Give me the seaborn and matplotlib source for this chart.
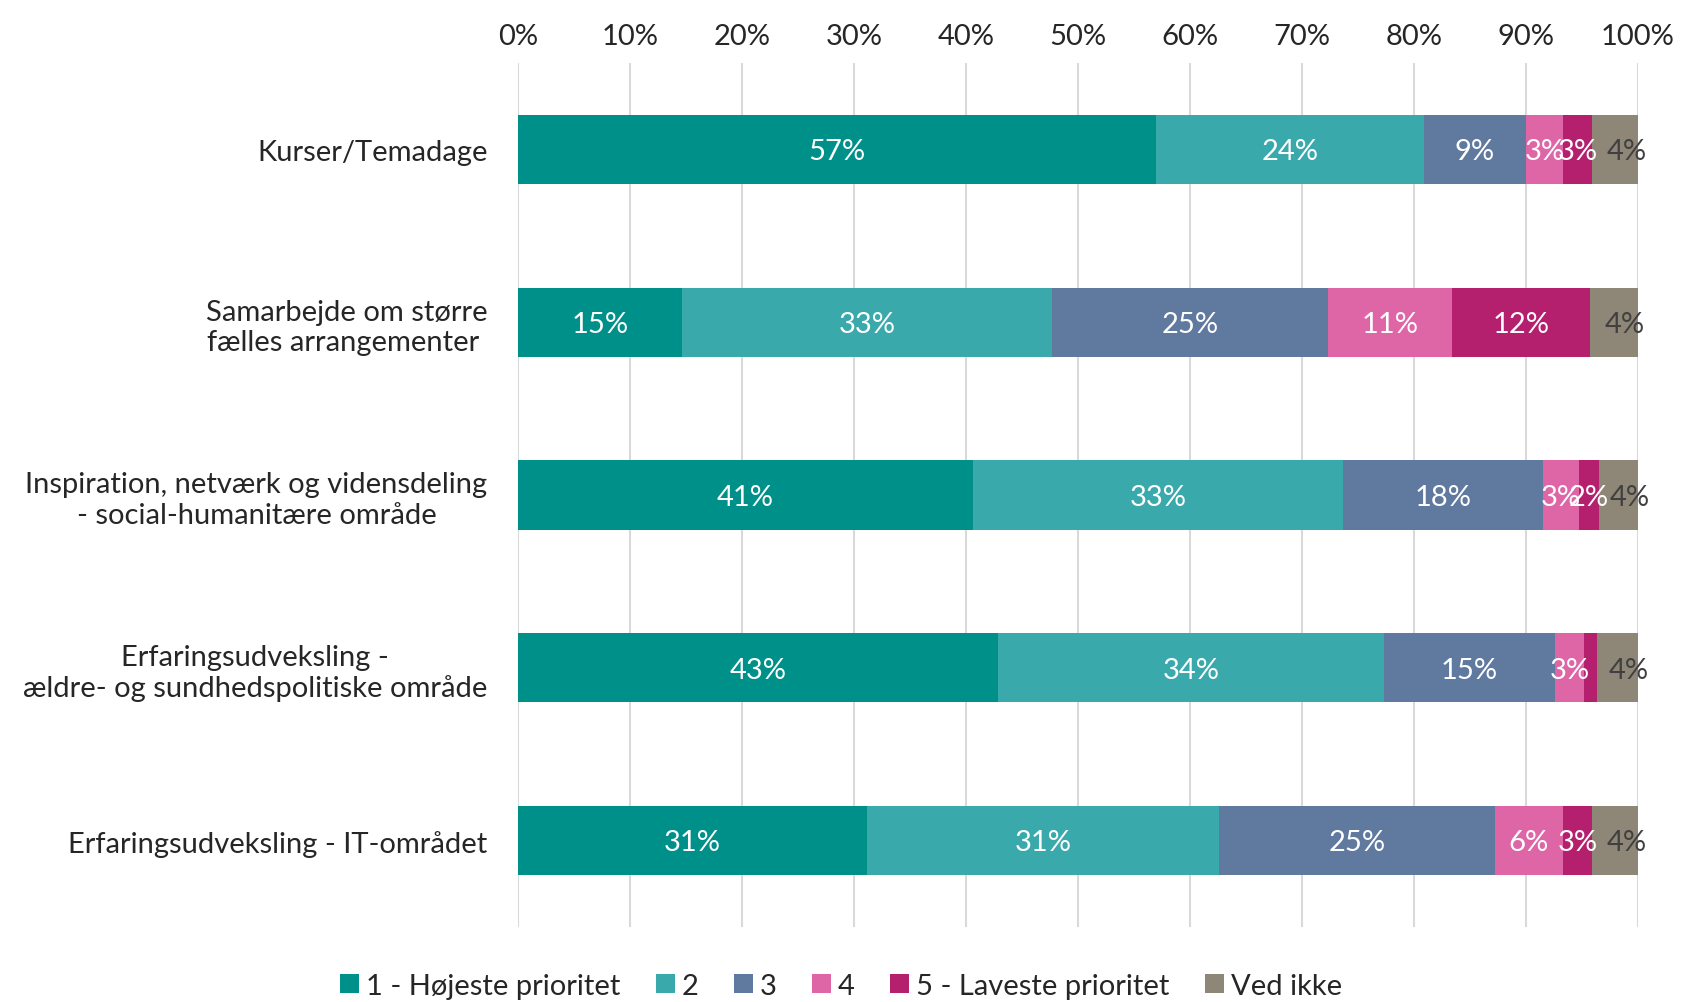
import numpy as np
import pandas as pd
import matplotlib
matplotlib.use("Agg")
import matplotlib.pyplot as plt
from matplotlib.patches import Patch
import seaborn as sns

# data
categories = [
    "Kurser/Temadage",
    "Samarbejde om større\nfælles arrangementer ",
    "Inspiration, netværk og vidensdeling\n- social-humanitære område",
    "Erfaringsudveksling -\nældre- og sundhedspolitiske område",
    "Erfaringsudveksling - IT-området",
]
series = ["1 - Højeste prioritet", "2", "3", "4", "5 - Laveste prioritet", "Ved ikke"]
p1 = [57.0, 14.6, 40.6, 42.9, 31.2]
p2 = [23.9, 33.1, 33.1, 34.4, 31.4]
p3 = [9.1, 24.6, 17.8, 15.3, 24.6]
p4 = [3.3, 11.1, 3.2, 2.6, 6.1]
p5 = [2.6, 12.3, 1.8, 1.1, 2.6]
p6 = [4.1, 4.3, 3.5, 3.7, 4.1]
colors = ["#00908A", "#3AA9AC", "#5F799F", "#DE66A7", "#B5206E", "#8E8676"]
label_colors = ["white", "white", "white", "white", "white", "#404040"]

values = [p1, p2, p3, p4, p5, p6]
df = pd.DataFrame({s: v for s, v in zip(series, values)}, index=categories)
cum = df.cumsum(axis=1)

sns.set_style("white")
plt.rcParams["font.family"] = ["Lato", "DejaVu Sans"]
FS = 21

fig = plt.figure(figsize=(16.82, 10.03), dpi=100)
ax = fig.add_axes([518 / 1682, 1 - 928 / 1003, (1638 - 518) / 1682, (928 - 64) / 1003])

# draw cumulative bars from the end so earlier series overlay later ones
for i in range(len(series) - 1, -1, -1):
    d = pd.DataFrame({"cat": categories, "val": cum.iloc[:, i].values})
    sns.barplot(data=d, x="val", y="cat", orient="h", color=colors[i],
                width=0.4, saturation=1, ax=ax, linewidth=0)

for i, s in enumerate(series):
    starts = cum.iloc[:, i].values - df[s].values
    shift = 1.0 if s == "Ved ikke" else 0.0
    for j, v in enumerate(df[s].values):
        if v < 1.5:
            continue
        ax.text(starts[j] + v / 2 + shift, j + 0.01, f"{int(v + 0.5)}%", ha="center", va="center",
                fontsize=FS, color=label_colors[i])

ax.set_xlim(0, 100)
ax.set_ylim(4.5, -0.5)
ax.set_xticks(np.arange(0, 101, 10))
ax.set_xticklabels([f"{t}%" for t in range(0, 101, 10)])
ax.xaxis.tick_top()
ax.tick_params(axis="x", length=0, labelsize=FS, pad=10)
ax.tick_params(axis="y", length=0, labelsize=FS, pad=22)
for lbl in ax.get_yticklabels():
    lbl.set_multialignment("center")
ax.set_xlabel("")
ax.set_ylabel("")
ax.grid(axis="x", color="#D9D9D9", linewidth=1.5)
ax.set_axisbelow(True)
for sp in ax.spines.values():
    sp.set_visible(False)

handles = [Patch(facecolor=c, edgecolor="none") for c in colors]
fig.legend(handles, series, loc="center", bbox_to_anchor=(0.5, 1 - 987 / 1003), ncol=6,
           frameon=False, fontsize=FS, handlelength=0.65, handleheight=0.65,
           handletextpad=0.25, columnspacing=1.2)

fig.savefig("out.png", dpi=100)
